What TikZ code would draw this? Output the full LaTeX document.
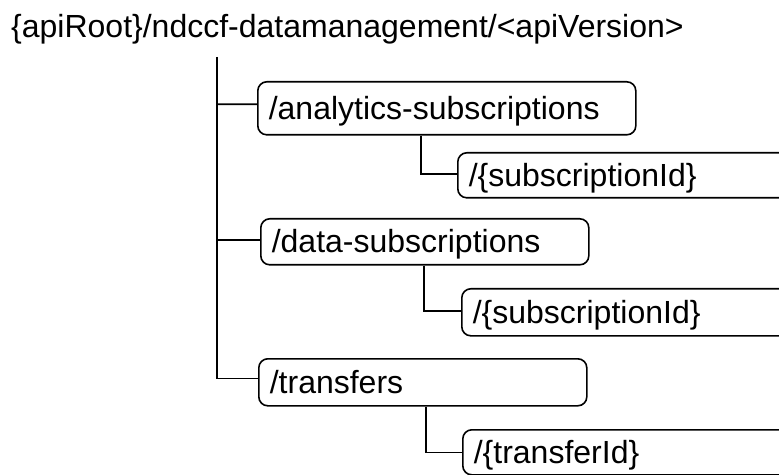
\documentclass[tikz,border=0pt]{standalone}
\usepackage{fontspec}
\setmainfont{Liberation Sans}
\begin{document}
\begin{tikzpicture}[x=1bp,y=-1bp,
  res/.style={draw, line width=1.6bp, rounded corners=9bp, anchor=north west,
    inner xsep=11bp, inner ysep=0pt, text height=26bp, text depth=4bp,
    align=left, font=\fontsize{32bp}{38bp}\selectfont},
  link/.style={line width=1.6bp},
  titletext/.style={anchor=base west, inner sep=0pt, font=\fontsize{32bp}{38bp}\selectfont}]
\useasboundingbox (0,0) rectangle (779,475);
\clip (0,0) rectangle (779,475);
\node[titletext] (title) at (11,38) {\{apiRoot\}/ndccf-datamanagement/<apiVersion>};
\coordinate (trunk) at (217,57);
\node[res, minimum height=53bp, text width=356bp] (b1) at (257,81) {/analytics-subscriptions};
\node[res, minimum height=45bp, text width=321bp] (s1) at (457,152) {/\{subscriptionId\}};
\node[res, minimum height=46bp, text width=306bp] (b2) at (260,218) {/data-subscriptions};
\node[res, minimum height=47bp, text width=317bp] (s2) at (461,288) {/\{subscriptionId\}};
\node[res, minimum height=47bp, text width=306bp] (b3) at (258,358) {/transfers};
\node[res, minimum height=45bp, text width=316bp] (s3) at (462,429) {/\{transferId\}};
\draw[link] (trunk) |- ([yshift=4bp]b3.west);
\draw[link] (trunk |- b1.west) ++(0,-4) -- ([yshift=4bp]b1.west);
\draw[link] (trunk |- b2.west) ++(0,-2) -- ([yshift=2bp]b2.west);
\draw[link] ([xshift=164bp]b1.south west) |- ([yshift=1bp]s1.west);
\draw[link] ([xshift=164bp]b2.south west) |- ([yshift=1bp]s2.west);
\draw[link] ([xshift=168bp]b3.south west) |- (s3.west);
\end{tikzpicture}
\end{document}
